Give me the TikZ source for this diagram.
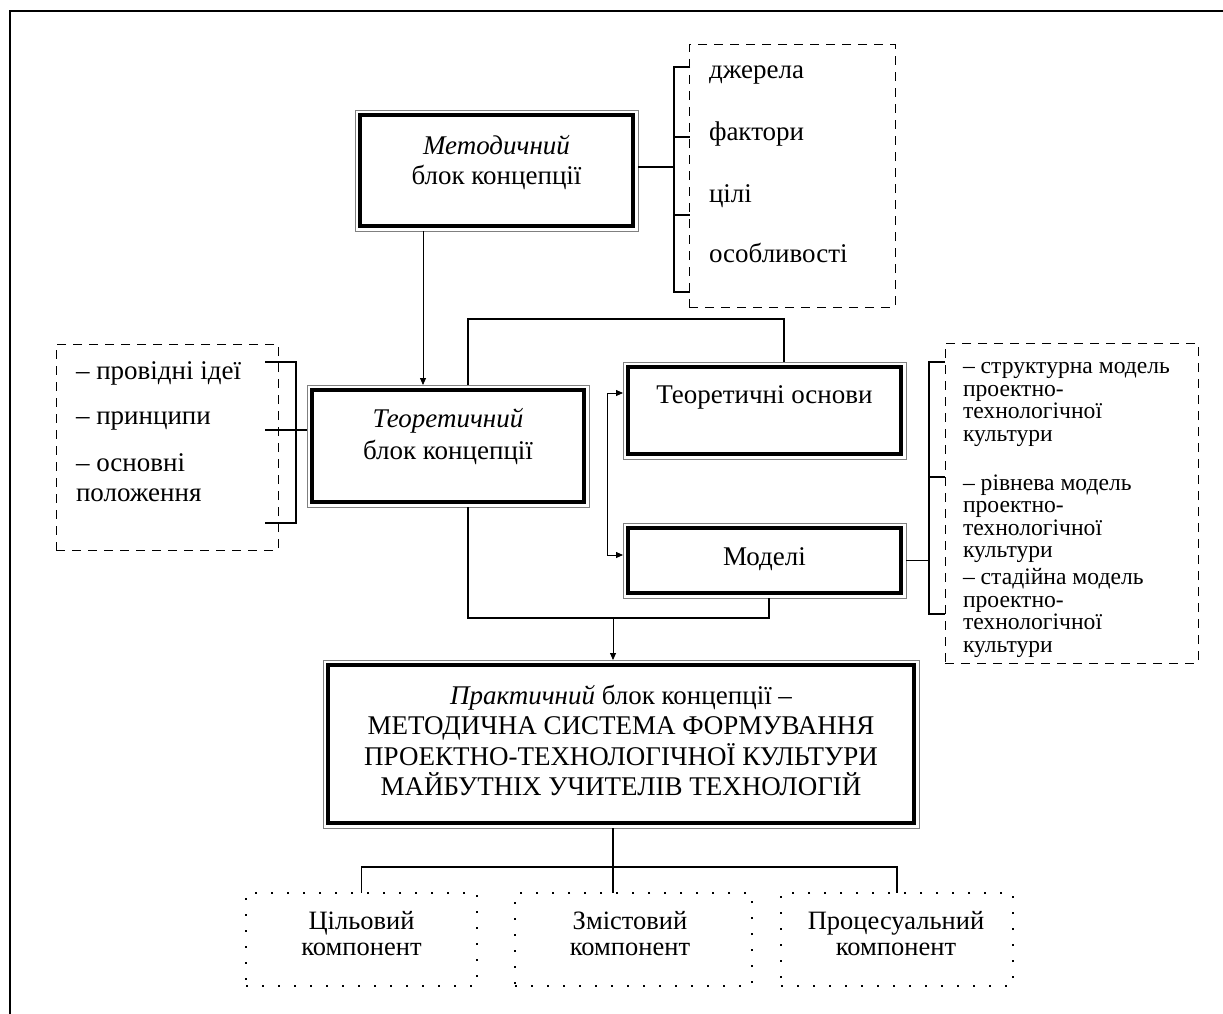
\documentclass[tikz,border=0pt]{standalone}
\usepackage{fontspec}
\setmainfont{Liberation Serif}
\usetikzlibrary{arrows.meta}
\begin{document}
\begin{tikzpicture}[x=1pt,y=-1pt,
  thickbox/.style={draw, line width=4.2pt, inner sep=0pt, outer sep=5pt},
  frame/.style={draw=black!50, line width=0.8pt},
  dashbox/.style={draw, line width=1pt, dash pattern=on 9pt off 7pt, inner sep=0pt, outer sep=0pt},
  dotbox/.style={draw, line width=1.6pt, dash pattern=on 1.6pt off 14.4pt, inner sep=0pt, outer sep=0pt},
  conn/.style={draw, line width=1.4pt},
  bracket/.style={draw, line width=1.8pt},
  arr/.style={draw, line width=0.8pt, -{Triangle[length=7pt,width=6pt]}},
  txt/.style={inner sep=0pt, outer sep=0pt, font=\fontsize{27}{30}\selectfont},
  smalltxt/.style={inner sep=0pt, outer sep=0pt, font=\fontsize{23.6}{22.5}\selectfont},
  comptxt/.style={inner sep=0pt, outer sep=0pt, font=\fontsize{26.5}{25.5}\selectfont},
]
\useasboundingbox (0,0) rectangle (1223,1014);

% page frame (top and left edges)
\draw[line width=1.6pt] (10,1014) -- (10,11) -- (1223,11);

% main blocks with thick border and thin outer frame
\node[thickbox, minimum width=273pt, minimum height=111pt] (met) at (496.5,170.5) {};
\node[thickbox, minimum width=272pt, minimum height=112pt] (teo) at (448,446) {};
\node[thickbox, minimum width=273pt, minimum height=87pt]  (osn) at (764.5,410.5) {};
\node[thickbox, minimum width=273pt, minimum height=65pt]  (mod) at (764.5,560.5) {};
\node[thickbox, minimum width=586pt, minimum height=158pt] (pra) at (621,744) {};
\foreach \n in {met,teo,osn,mod,pra}
  \draw[frame] (\n.north west) rectangle (\n.south east);

% block captions
\node[txt, anchor=base] (metT) at (496.5,154.5)
  {\parbox[t]{270pt}{\centering\textit{Методичний}\\блок концепції}};
\node[txt, anchor=base, font=\fontsize{27}{32}\selectfont] (teoT) at (448,427)
  {\parbox[t]{270pt}{\centering\textit{Теоретичний}\\блок концепції}};
\node[txt, anchor=base] (osnT) at (764.5,403.5) {Теоретичні основи};
\node[txt, anchor=base] (modT) at (764.5,565.5) {Моделі};
\node[txt, anchor=base, font=\fontsize{27}{30.3}\selectfont] (praT) at (621,704.5)
  {\parbox[t]{600pt}{\centering\textit{Практичний} блок концепції –\\
   МЕТОДИЧНА СИСТЕМА ФОРМУВАННЯ\\ПРОЕКТНО-ТЕХНОЛОГІЧНОЇ КУЛЬТУРИ\\
   МАЙБУТНІХ УЧИТЕЛІВ ТЕХНОЛОГІЙ}};

% dashed lists
\node[dashbox, minimum width=206pt, minimum height=262pt] (srcBox) at (792,176) {};
\node[txt, anchor=base west] (s1) at (709,78.5) {джерела};
\node[txt, anchor=base west] (s2) at (709,141) {фактори};
\node[txt, anchor=base west] (s3) at (709,202.5) {цілі};
\node[txt, anchor=base west] (s4) at (709,262) {особливості};

\node[dashbox, minimum width=222pt, minimum height=206pt] (ideaBox) at (167,447) {};
\node[txt, anchor=base west] (ideaT) at (76,379.5)
  {\parbox[t]{200pt}{– провідні ідеї\\[15pt]– принципи\\[16.7pt]– основні\\положення}};

\node[dashbox, minimum width=253pt, minimum height=320pt] (modBox) at (1071.5,503) {};
\node[smalltxt, anchor=base west] (modList) at (963,373.5)
  {\parbox[t]{240pt}{– структурна модель\\проектно-\\технологічної\\культури\\[26.5pt]%
   – рівнева модель\\проектно-\\технологічної\\культури\\[4.5pt]%
   – стадійна модель\\проектно-\\технологічної\\культури}};

% components
\node[dotbox, minimum width=231pt, minimum height=93pt] (c1) at (361.5,939.5) {};
\node[dotbox, minimum width=237pt, minimum height=93pt] (c2) at (633.5,939.5) {};
\node[dotbox, minimum width=232pt, minimum height=93pt] (c3) at (897,939.5) {};
\node[comptxt, anchor=base] (c1T) at (361.5,929.5) {\parbox[t]{220pt}{\centering Цільовий\\компонент}};
\node[comptxt, anchor=base] (c2T) at (630,929.5) {\parbox[t]{220pt}{\centering Змістовий\\компонент}};
\node[comptxt, anchor=base] (c3T) at (896,929.5) {\parbox[t]{220pt}{\centering Процесуальний\\компонент}};

% brackets
\coordinate (bS) at (674,167);
\draw[conn] (met.east |- bS) -- (bS);
\draw[bracket] (690,67) -- (674,67) -- (674,292) -- (690,292);
\draw[bracket] (674,137) -- (690,137);
\draw[bracket] (674,215) -- (690,215);

\coordinate (bI) at (296,430);
\draw[conn] (bI) -- (teo.west |- bI);
\draw[bracket] (265,362) -- (296,362) -- (296,523) -- (265,523);
\draw[bracket] (265,430) -- (296,430);

\coordinate (bM) at (929,560.5);
\draw[conn] (mod.east) -- (bM);
\draw[bracket] (945,362) -- (929,362) -- (929,614) -- (945,614);
\draw[bracket] (929,477) -- (945,477);

% connectors between blocks
\draw[arr] ([xshift=-73.5pt]met.south) -- ([xshift=-73.5pt]met.south |- teo.north);

\coordinate (tt) at (468,319);
\coordinate (ot) at (784,319);
\draw[conn] (tt |- teo.north) -- (tt) -- (ot) -- (ot |- osn.north);

\coordinate (tb) at (468,618);
\coordinate (mb) at (769,618);
\draw[conn] (tb |- teo.south) -- (tb) -- (mb) -- (mb |- mod.south);

\coordinate (va) at (607,393);
\coordinate (vb) at (607,555);
\draw[line width=0.8pt] (va) -- (vb);
\draw[arr] (va) -- (va -| osn.west);
\draw[arr] (vb) -- (vb -| mod.west);

\coordinate (ain) at (613,618);
\draw[arr] (ain) -- (ain |- pra.north);

\coordinate (jb) at (613,867);
\draw[conn] (pra.south -| jb) -- (jb |- c2.north);
\draw[conn] (c1.north) -- (c1.north |- jb) -- (c3.north |- jb) -- (c3.north);
\end{tikzpicture}
\end{document}
